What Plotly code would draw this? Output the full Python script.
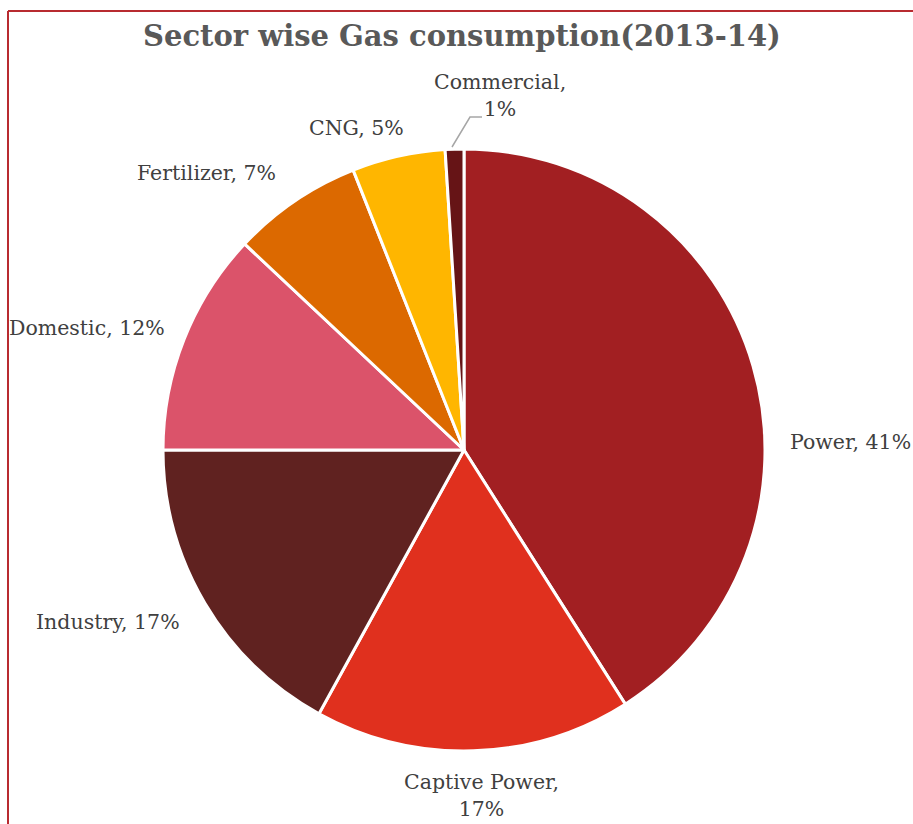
import plotly.graph_objects as go

# Sector-wise gas consumption shares, 2013-14 (percent)
sectors = ["Power", "Captive Power", "Industry", "Domestic", "Fertilizer", "CNG", "Commercial"]
shares = [41, 17, 17, 12, 7, 5, 1]
slice_colors = ["#A21F22", "#E0301E", "#602220", "#DB536A", "#DC6900", "#FFB600", "#661416"]

W, H = 913, 824

# label anchor points in pixels (x, y) and whether the percentage wraps onto a new line
label_pos = {
    "Power": (850, 442, False),
    "Captive Power": (481, 795, True),
    "Industry": (108, 622, False),
    "Domestic": (87, 328, False),
    "Fertilizer": (206, 173, False),
    "CNG": (356, 128, False),
    "Commercial": (500, 95, True),
}

cx, cy, r = 464, 450, 301

fig = go.Figure(
    go.Pie(
        labels=sectors,
        values=shares,
        sort=False,
        direction="clockwise",
        rotation=0,
        marker=dict(colors=slice_colors, line=dict(color="white", width=3)),
        textinfo="none",
        hoverinfo="label+percent",
        showlegend=False,
        domain=dict(
            x=[(cx - r) / W, (cx + r) / W],
            y=[1 - (cy + r) / H, 1 - (cy - r) / H],
        ),
    )
)

annotations = []
for name, val in zip(sectors, shares):
    px, py, wrap = label_pos[name]
    sep = ",<br>" if wrap else ", "
    annotations.append(
        dict(
            x=px / W, y=1 - py / H, xref="paper", yref="paper",
            text=f"{name}{sep}{val}%", showarrow=False,
            xanchor="center", yanchor="middle",
            font=dict(family="DejaVu Serif", size=20.5, color="#404040"),
        )
    )

annotations.append(
    dict(
        x=462 / W, y=1 - 36 / H, xref="paper", yref="paper",
        text="<b>Sector wise Gas consumption(2013-14)</b>", showarrow=False,
        xanchor="center", yanchor="middle",
        font=dict(family="DejaVu Serif", size=29, color="#595959"),
    )
)

shapes = [
    # chart frame (top and left edges)
    dict(type="line", xref="paper", yref="paper",
         x0=8 / W, x1=1.0, y0=1 - 11 / H, y1=1 - 11 / H,
         line=dict(color="#B82B30", width=2)),
    dict(type="line", xref="paper", yref="paper",
         x0=8 / W, x1=8 / W, y0=0, y1=1 - 11 / H,
         line=dict(color="#B82B30", width=2)),
    # leader line for the Commercial slice
    dict(type="path", xref="paper", yref="paper",
         path=f"M {452 / W},{1 - 147 / H} L {470 / W},{1 - 117 / H} L {482 / W},{1 - 117 / H}",
         line=dict(color="#A6A6A6", width=1.5)),
]

fig.update_layout(
    width=W, height=H,
    margin=dict(l=0, r=0, t=0, b=0),
    paper_bgcolor="white",
    plot_bgcolor="white",
    annotations=annotations,
    shapes=shapes,
)

fig.write_html("out.html")
